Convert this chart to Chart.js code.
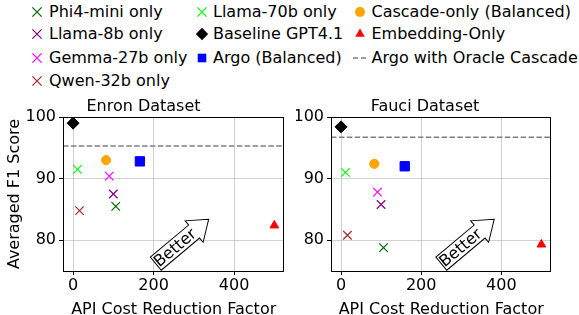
<!DOCTYPE html>
<html lang="en">
<head>
<meta charset="UTF-8">
<title>API Cost Reduction vs F1</title>
<script src="https://cdn.jsdelivr.net/npm/chart.js@4"></script>
<style>
  body { margin: 0; width: 579px; height: 315px; background: #fff; position: relative; overflow: hidden; font-family: 'DejaVu Sans', sans-serif; }
  .chart { position: absolute; top: 95px; }
  #enron { left: 0; }
  #fauci { left: 296px; }
  .item { position: absolute; height: 20px; line-height: 20px; font-size: 16px; color: #000; white-space: nowrap; }
  .item canvas { position: absolute; left: 0; top: 0; }
  .item span { position: absolute; top: 0; }
</style>
</head>
<body>
<div id="legend"></div>
<canvas id="enron" class="chart" width="292" height="224"></canvas>
<canvas id="fauci" class="chart" width="263" height="224"></canvas>
<script>
// data
const methods = ['Phi4-mini only', 'Llama-8b only', 'Gemma-27b only', 'Qwen-32b only',
                 'Llama-70b only', 'Baseline GPT4.1', 'Argo (Balanced)',
                 'Cascade-only (Balanced)', 'Embedding-Only'];
const enronCost = [106, 100, 90, 16, 11, 0, 166, 82, 500];
const enronF1   = [85.5, 87.5, 90.4, 84.8, 91.5, 99.0, 92.8, 93.0, 82.4];
const fauciCost = [106, 100, 91, 16, 11, 0, 159, 83, 500];
const fauciF1   = [78.8, 85.8, 87.8, 80.8, 91.0, 98.4, 92.0, 92.4, 79.3];
const oracleLabel = 'Argo with Oracle Cascade';
const oracleF1 = [95.3, 96.7];
const panelTitles = ['Enron Dataset', 'Fauci Dataset'];
const xTicks = [0, 200, 400];
const yTicks = [80, 90, 100];
const betterX = [255, 300];
const betterY = [78.9, 78.9];

// marker styles, same order as methods
const styles = [
  { shape: 'crossRot', color: '#006400', r: 6 },
  { shape: 'crossRot', color: '#800080', r: 6 },
  { shape: 'crossRot', color: '#ff00ff', r: 6 },
  { shape: 'crossRot', color: '#a52a2a', r: 6 },
  { shape: 'crossRot', color: '#00ff00', r: 6 },
  { shape: 'rectRot',  color: '#000000', r: 6 },
  { shape: 'rect',     color: '#0000ff', r: 6.6 },
  { shape: 'circle',   color: '#ffa500', r: 4.6 },
  { shape: 'triangle', color: '#ff0000', r: 5 }
];

Chart.defaults.font.family = "'DejaVu Sans', sans-serif";
Chart.defaults.font.size = 16;
Chart.defaults.color = '#000';

// frame around the plot + the "Better" arrow
const panelDecor = {
  id: 'panelDecor',
  afterDatasetsDraw(chart, args, opts) {
    const { ctx, chartArea: a, scales: { x, y } } = chart;
    const px = x.getPixelForValue(opts.bx), py = y.getPixelForValue(opts.by);
    ctx.save();
    ctx.translate(px, py);
    ctx.rotate(-40 * Math.PI / 180);
    ctx.beginPath();
    ctx.moveTo(-26, -8.5); ctx.lineTo(24, -8.5); ctx.lineTo(24, -14); ctx.lineTo(43, 0);
    ctx.lineTo(24, 14); ctx.lineTo(24, 8.5); ctx.lineTo(-26, 8.5); ctx.closePath();
    ctx.fillStyle = '#fff'; ctx.fill();
    ctx.strokeStyle = '#000'; ctx.lineWidth = 1; ctx.stroke();
    ctx.fillStyle = '#000';
    ctx.font = "16px 'DejaVu Sans'";
    ctx.textAlign = 'center'; ctx.textBaseline = 'middle';
    ctx.fillText('Better', -1, 1);
    ctx.restore();

    ctx.save();
    ctx.strokeStyle = '#000'; ctx.lineWidth = 1;
    ctx.strokeRect(Math.round(a.left) + 0.5, Math.round(a.top) + 0.5,
                   Math.round(a.width) - 1, Math.round(a.height));
    ctx.restore();
  }
};

function makeChart(id, idx, cost, f1, yAxisWidth, showYTitle) {
  const datasets = [{
    type: 'line',
    label: oracleLabel,
    data: [{ x: -25, y: oracleF1[idx] }, { x: 525, y: oracleF1[idx] }],
    borderColor: '#808080', borderDash: [5.5, 2.4], borderWidth: 1.5,
    pointRadius: 0, fill: false
  }];
  methods.forEach((m, i) => {
    const s = styles[i];
    const cross = s.shape === 'crossRot';
    datasets.push({
      label: m,
      data: [{ x: cost[i], y: f1[i] }],
      pointStyle: s.shape,
      pointRadius: s.r,
      pointBackgroundColor: s.color,
      pointBorderColor: s.color,
      pointBorderWidth: cross ? 1.2 : 1
    });
  });

  return new Chart(document.getElementById(id), {
    type: 'scatter',
    data: { datasets },
    plugins: [panelDecor],
    options: {
      responsive: false,
      animation: false,
      devicePixelRatio: 1,
      layout: { padding: { left: 0, right: 5, top: 0, bottom: 0 } },
      plugins: {
        legend: { display: false },
        tooltip: { enabled: false },
        title: {
          display: true, text: panelTitles[idx],
          font: { size: 16, weight: 'normal' },
          padding: { top: 2, bottom: 0.8 }
        },
        panelDecor: { bx: betterX[idx], by: betterY[idx] }
      },
      scales: {
        x: {
          type: 'linear', min: -25, max: 525,
          afterBuildTicks: s => { s.ticks = xTicks.map(v => ({ value: v })); },
          afterFit: s => { s.height = 48; },
          grid: { color: 'rgba(176,176,176,0.6)', tickColor: '#000', tickLength: 4 },
          border: { display: false },
          ticks: { padding: 1 },
          title: { display: true, text: 'API Cost Reduction Factor', padding: { top: 0, bottom: 0 } }
        },
        y: {
          min: 75, max: 100,
          afterBuildTicks: s => { s.ticks = yTicks.map(v => ({ value: v })); },
          afterFit: s => { s.width = yAxisWidth; },
          grid: { color: 'rgba(176,176,176,0.6)', tickColor: '#000', tickLength: 4 },
          border: { display: false },
          ticks: { padding: 3 },
          title: { display: showYTitle, text: 'Averaged F1 Score', padding: { top: 5, bottom: 5 } }
        }
      }
    }
  });
}

makeChart('enron', 0, enronCost, enronF1, 63, true);
makeChart('fauci', 1, fauciCost, fauciF1, 35, false);

// shared legend at the top, three columns
function drawMarker(ctx, shape, color, cx, cy, r) {
  ctx.fillStyle = color; ctx.strokeStyle = color; ctx.lineWidth = 1.2;
  ctx.beginPath();
  if (shape === 'crossRot') {
    const d = r * Math.SQRT1_2;
    ctx.moveTo(cx - d, cy - d); ctx.lineTo(cx + d, cy + d);
    ctx.moveTo(cx - d, cy + d); ctx.lineTo(cx + d, cy - d);
    ctx.stroke();
  } else if (shape === 'rectRot') {
    ctx.moveTo(cx, cy - r); ctx.lineTo(cx + r, cy); ctx.lineTo(cx, cy + r); ctx.lineTo(cx - r, cy);
    ctx.closePath(); ctx.fill();
  } else if (shape === 'rect') {
    ctx.rect(cx - r, cy - r, 2 * r, 2 * r); ctx.fill();
  } else if (shape === 'circle') {
    ctx.arc(cx, cy, r, 0, Math.PI * 2); ctx.fill();
  } else if (shape === 'triangle') {
    ctx.moveTo(cx, cy - r); ctx.lineTo(cx + r * 0.87, cy + r * 0.5); ctx.lineTo(cx - r * 0.87, cy + r * 0.5);
    ctx.closePath(); ctx.fill();
  } else if (shape === 'dash') {
    ctx.strokeStyle = '#808080'; ctx.lineWidth = 1.5;
    ctx.moveTo(cx - 7, cy); ctx.lineTo(cx - 2, cy);
    ctx.moveTo(cx + 1, cy); ctx.lineTo(cx + 6, cy);
    ctx.stroke();
  }
}

const legendCols = [
  { mx: 37, tx: 49, items: [0, 1, 2, 3] },
  { mx: 202, tx: 213, items: [4, 5, 6] },
  { mx: 360, tx: 371.5, items: [7, 8, -1] }
];
const legendRows = [11.7, 34.3, 57.8, 81];
const legendSize = { crossRot: 6.5, rectRot: 6.2, rect: 4.3, circle: 5, triangle: 5.5 };
const legendEl = document.getElementById('legend');
legendCols.forEach(col => {
  col.items.forEach((mi, row) => {
    const div = document.createElement('div');
    div.className = 'item';
    div.style.left = (col.mx - 10) + 'px';
    div.style.top = Math.round(legendRows[row] - 10) + 'px';
    const c = document.createElement('canvas');
    c.width = 20; c.height = 20;
    const cx = c.getContext('2d');
    const label = mi >= 0 ? methods[mi] : oracleLabel;
    if (mi >= 0) drawMarker(cx, styles[mi].shape, styles[mi].color, 10, 10, legendSize[styles[mi].shape]);
    else drawMarker(cx, 'dash', '#808080', 10, 10, 0);
    const sp = document.createElement('span');
    sp.style.left = (col.tx - col.mx + 10) + 'px';
    sp.textContent = label;
    div.appendChild(c); div.appendChild(sp);
    legendEl.appendChild(div);
  });
});
</script>
</body>
</html>
